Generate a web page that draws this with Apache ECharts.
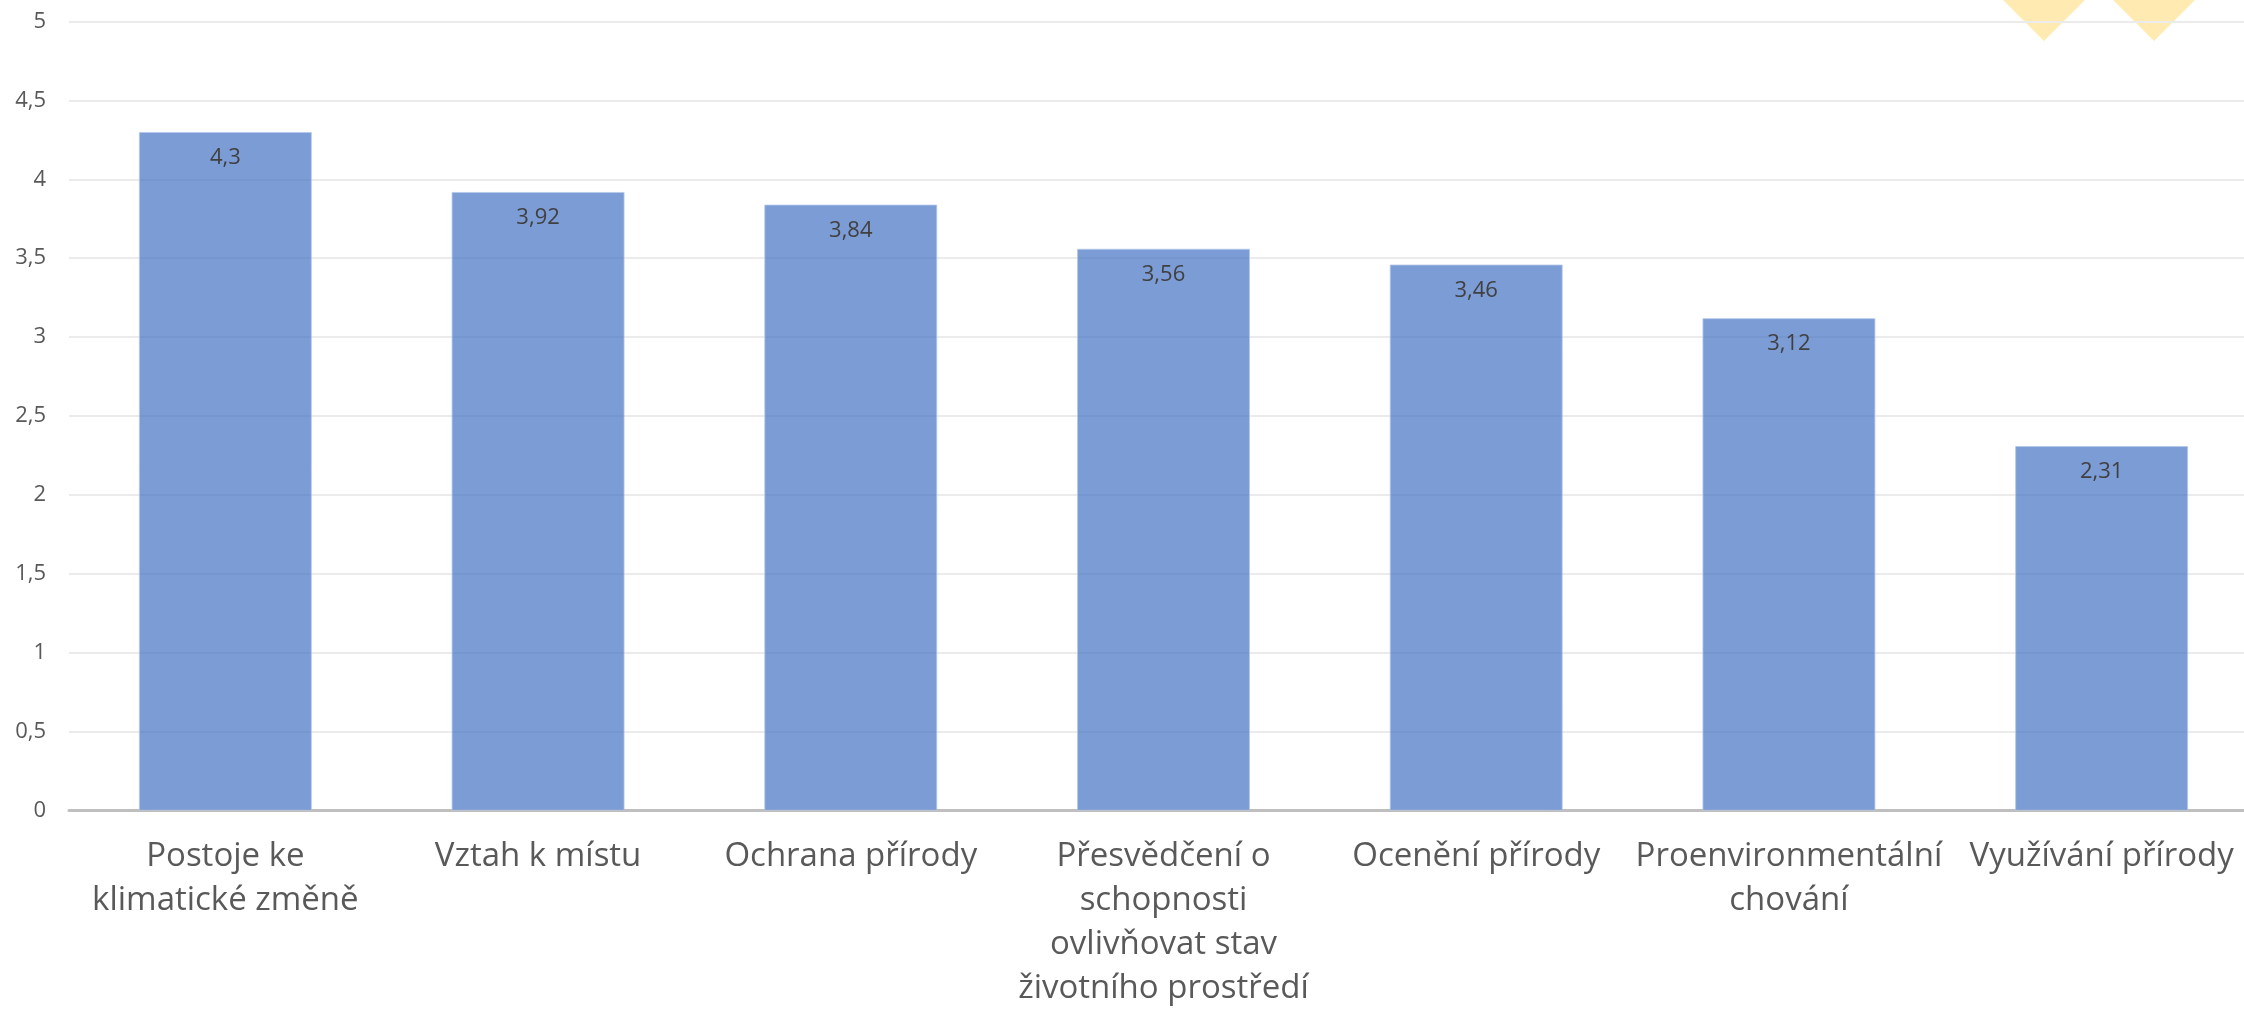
<!DOCTYPE html>
<html>
<head>
<meta charset="utf-8">
<script src="https://cdn.jsdelivr.net/npm/echarts@6/dist/echarts.min.js"></script>
<style>
html,body{margin:0;padding:0;background:#fff;overflow:hidden;}
#chart{width:2260px;height:1015px;}
</style>
</head>
<body>
<div id="chart"></div>
<script>
const categories = [
  "Postoje ke\nklimatické změně",
  "Vztah k místu",
  "Ochrana přírody",
  "Přesvědčení o\nschopnosti\novlivňovat stav\nživotního prostředí",
  "Ocenění přírody",
  "Proenvironmentální\nchování",
  "Využívání přírody"
];
const values = [4.3, 3.92, 3.84, 3.56, 3.46, 3.12, 2.31];
const yTicks = [0, 0.5, 1, 1.5, 2, 2.5, 3, 3.5, 4, 4.5, 5];

const fmt = v => String(v).replace('.', ',');
const FONT = '"Open Sans", "Noto Sans", sans-serif';

const chart = echarts.init(document.getElementById('chart'), null, {renderer: 'canvas'});
chart.setOption({
  animation: false,
  backgroundColor: '#ffffff',
  grid: {left: 69, right: 2, top: 21.5, bottom: 204.5, containLabel: false},
  xAxis: {
    type: 'category',
    data: categories,
    axisLine: {show: true, lineStyle: {color: '#BFBFBF', width: 3}},
    axisTick: {show: false},
    axisLabel: {
      interval: 0,
      margin: 24,
      fontFamily: FONT,
      fontSize: 33,
      lineHeight: 44,
      color: '#595959'
    }
  },
  yAxis: {
    type: 'value',
    min: yTicks[0],
    max: yTicks[yTicks.length - 1],
    interval: 0.5,
    axisLine: {show: false},
    axisTick: {show: false},
    splitLine: {lineStyle: {color: '#EBEBEB', width: 2}},
    axisLabel: {
      margin: 23,
      fontFamily: FONT,
      fontSize: 22,
      color: '#595959',
      formatter: v => fmt(v)
    }
  },
  graphic: [
    {type: 'polygon', z: -10, shape: {points: [[2000, -3], [2088, -3], [2044, 41]]}, style: {fill: '#FFEBB2'}},
    {type: 'polygon', z: -10, shape: {points: [[2110, -3], [2198, -3], [2154, 41]]}, style: {fill: '#FFEBB2'}}
  ],
  series: [{
    type: 'bar',
    data: values,
    barWidth: 173,
    itemStyle: {color: 'rgba(68,114,196,0.7)', borderColor: 'rgba(180,200,235,0.8)', borderWidth: 1},
    label: {
      show: true,
      position: 'insideTop',
      distance: 15,
      fontFamily: FONT,
      fontSize: 22,
      color: '#404040',
      formatter: p => fmt(p.value)
    }
  }]
});
</script>
</body>
</html>
